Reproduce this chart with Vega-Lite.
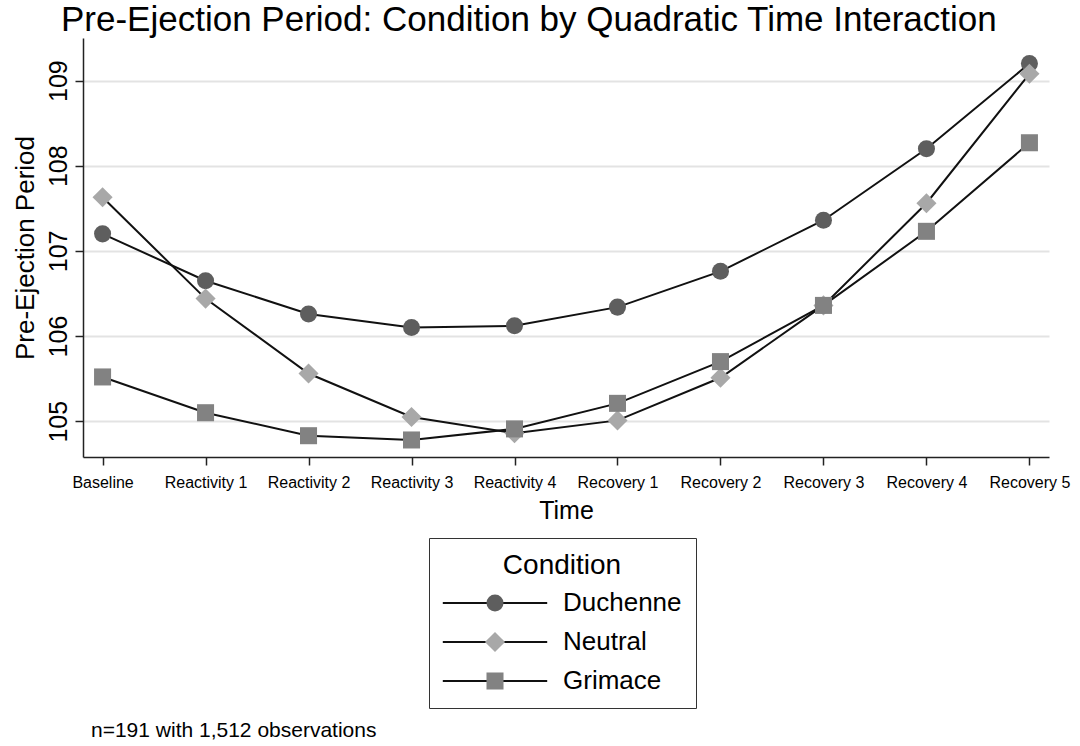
{
  "$schema": "https://vega.github.io/schema/vega-lite/v6.json",
  "background": "white",
  "padding": {"left": 12, "top": 3, "right": 5, "bottom": 3},
  "title": {
    "text": "Pre-Ejection Period: Condition by Quadratic Time Interaction",
    "anchor": "start",
    "frame": "group",
    "dx": -22,
    "font": "Liberation Sans",
    "fontSize": 35,
    "fontWeight": "normal",
    "color": "#000000",
    "offset": 0
  },
  "vconcat": [
    {
      "title": {
        "text": "n=191 with 1,512 observations",
        "orient": "bottom",
        "anchor": "start",
        "frame": "group",
        "dx": 8,
        "font": "Liberation Sans",
        "fontSize": 21,
        "fontWeight": "normal",
        "color": "#000000",
        "offset": 197
      },
      "width": 966,
      "height": 419,
      "data": {
        "values": [
          {"Time": "Baseline", "Condition": "Duchenne", "PEP": 107.20},
          {"Time": "Reactivity 1", "Condition": "Duchenne", "PEP": 106.65},
          {"Time": "Reactivity 2", "Condition": "Duchenne", "PEP": 106.26},
          {"Time": "Reactivity 3", "Condition": "Duchenne", "PEP": 106.10},
          {"Time": "Reactivity 4", "Condition": "Duchenne", "PEP": 106.12},
          {"Time": "Recovery 1", "Condition": "Duchenne", "PEP": 106.34},
          {"Time": "Recovery 2", "Condition": "Duchenne", "PEP": 106.76},
          {"Time": "Recovery 3", "Condition": "Duchenne", "PEP": 107.36},
          {"Time": "Recovery 4", "Condition": "Duchenne", "PEP": 108.20},
          {"Time": "Recovery 5", "Condition": "Duchenne", "PEP": 109.20},
          {"Time": "Baseline", "Condition": "Neutral", "PEP": 107.63},
          {"Time": "Reactivity 1", "Condition": "Neutral", "PEP": 106.44},
          {"Time": "Reactivity 2", "Condition": "Neutral", "PEP": 105.56},
          {"Time": "Reactivity 3", "Condition": "Neutral", "PEP": 105.05},
          {"Time": "Reactivity 4", "Condition": "Neutral", "PEP": 104.86},
          {"Time": "Recovery 1", "Condition": "Neutral", "PEP": 105.01},
          {"Time": "Recovery 2", "Condition": "Neutral", "PEP": 105.51},
          {"Time": "Recovery 3", "Condition": "Neutral", "PEP": 106.36},
          {"Time": "Recovery 4", "Condition": "Neutral", "PEP": 107.56},
          {"Time": "Recovery 5", "Condition": "Neutral", "PEP": 109.08},
          {"Time": "Baseline", "Condition": "Grimace", "PEP": 105.52},
          {"Time": "Reactivity 1", "Condition": "Grimace", "PEP": 105.10},
          {"Time": "Reactivity 2", "Condition": "Grimace", "PEP": 104.83},
          {"Time": "Reactivity 3", "Condition": "Grimace", "PEP": 104.78},
          {"Time": "Reactivity 4", "Condition": "Grimace", "PEP": 104.91},
          {"Time": "Recovery 1", "Condition": "Grimace", "PEP": 105.21},
          {"Time": "Recovery 2", "Condition": "Grimace", "PEP": 105.70},
          {"Time": "Recovery 3", "Condition": "Grimace", "PEP": 106.36},
          {"Time": "Recovery 4", "Condition": "Grimace", "PEP": 107.23},
          {"Time": "Recovery 5", "Condition": "Grimace", "PEP": 108.27}
        ]
      },
      "encoding": {
        "x": {
          "field": "Time",
          "type": "ordinal",
          "sort": null,
          "scale": {"type": "point", "padding": 0.19},
          "axis": {
            "title": "Time",
            "labelAngle": 0,
            "labelFontSize": 16,
            "labelPadding": 9,
            "titleFontSize": 25,
            "titleFontWeight": "normal",
            "titlePadding": 8,
            "tickSize": 8,
            "grid": false
          }
        },
        "y": {
          "field": "PEP",
          "type": "quantitative",
          "scale": {"domain": [104.58, 109.5], "nice": false, "zero": false},
          "axis": {
            "title": "Pre-Ejection Period",
            "values": [105, 106, 107, 108, 109],
            "labelAngle": -90,
            "labelAlign": "center",
            "labelBaseline": "alphabetic",
            "labelFontSize": 25,
            "labelPadding": 9,
            "titleFontSize": 26,
            "titleFontWeight": "normal",
            "titlePadding": 8,
            "tickSize": 8,
            "grid": true,
            "gridColor": "#e3e3e3",
            "gridWidth": 2
          }
        }
      },
      "layer": [
        {
          "mark": {"type": "line", "strokeWidth": 2},
          "encoding": {
            "color": {
              "field": "Condition",
              "type": "nominal",
              "sort": ["Duchenne", "Neutral", "Grimace"],
              "scale": {"range": ["#111111", "#111111", "#111111"]},
              "legend": {
                "title": "Condition",
                "orient": "none",
                "legendX": 346,
                "legendY": 500,
                "padding": 14,
                "strokeColor": "#333333",
                "fillColor": "white",
                "titleFontSize": 28,
                "titleFontWeight": "normal",
                "titleAnchor": "middle",
                "titlePadding": 10,
                "labelFontSize": 26,
                "rowPadding": 13,
                "symbolType": "M-5.8,0H5.8",
                "symbolSize": 324,
                "symbolStrokeWidth": 2,
                "symbolOffset": 39,
                "labelOffset": 55,
                "zindex": 0
              }
            }
          }
        },
        {
          "mark": {"type": "point", "filled": true, "size": 290, "opacity": 1},
          "encoding": {
            "shape": {
              "field": "Condition",
              "type": "nominal",
              "scale": {"domain": ["Duchenne", "Neutral", "Grimace"], "range": ["circle", "M0,-1.18L1.18,0L0,1.18L-1.18,0Z", "square"]},
              "legend": {
                "title": " ",
                "orient": "none",
                "legendX": 346,
                "legendY": 500,
                "padding": 14,
                "titleFontSize": 28,
                "titleFontWeight": "normal",
                "titleColor": "transparent",
                "titleAnchor": "middle",
                "titlePadding": 10,
                "labelFontSize": 26,
                "labelColor": "transparent",
                "labelExpr": "' '",
                "rowPadding": 13,
                "symbolSize": 290,
                "symbolStrokeWidth": 0,
                "symbolOffset": 39,
                "labelOffset": 17,
                "zindex": 1
              }
            },
            "fill": {
              "field": "Condition",
              "type": "nominal",
              "scale": {"domain": ["Duchenne", "Neutral", "Grimace"], "range": ["#5e5e5e", "#a8a8a8", "#828282"]},
              "legend": {
                "title": " ",
                "orient": "none",
                "legendX": 346,
                "legendY": 500,
                "padding": 14,
                "titleFontSize": 28,
                "titleFontWeight": "normal",
                "titleColor": "transparent",
                "titleAnchor": "middle",
                "titlePadding": 10,
                "labelFontSize": 26,
                "labelColor": "transparent",
                "labelExpr": "' '",
                "rowPadding": 13,
                "symbolSize": 290,
                "symbolStrokeWidth": 0,
                "symbolOffset": 39,
                "labelOffset": 17,
                "zindex": 1
              }
            }
          }
        }
      ]
    }
  ],
  "config": {
    "font": "Liberation Sans",
    "view": {"stroke": null},
    "concat": {"spacing": 0},
    "axis": {
      "labelColor": "#000000",
      "titleColor": "#000000",
      "domainColor": "#222222",
      "domainWidth": 1.5,
      "tickColor": "#222222",
      "tickWidth": 1.5,
      "labelFont": "Liberation Sans",
      "titleFont": "Liberation Sans"
    },
    "legend": {
      "labelFont": "Liberation Sans",
      "titleFont": "Liberation Sans",
      "labelColor": "#000000",
      "titleColor": "#000000"
    }
  }
}
